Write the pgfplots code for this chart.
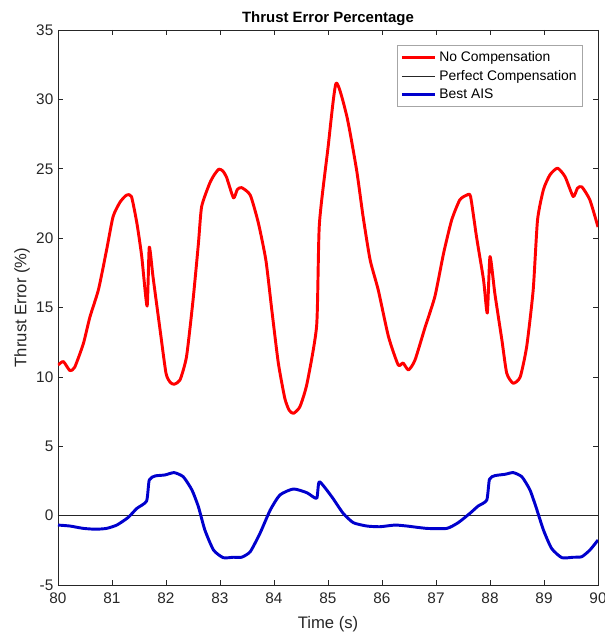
\documentclass[border=0pt]{standalone}
\usepackage{pgfplots}
\pgfplotsset{compat=1.18}
\usepackage{fontspec}
\setmainfont{Liberation Sans}
\definecolor{axgray}{RGB}{38,38,38}
\definecolor{myblue}{RGB}{0,0,205}
\begin{document}
\begin{tikzpicture}
\useasboundingbox (-43.5pt,-35.25pt) rectangle (410.25pt,438.75pt);
\begin{axis}[
  at={(0,0)}, anchor=south west,
  scale only axis, width=405pt, height=416.25pt,
  xmin=80, xmax=90, ymin=-5, ymax=35,
  xtick={80,81,...,90}, ytick={-5,0,...,35},
  tick align=inside, tick pos=both,
  major tick length=4pt,
  axis line style={axgray, line width=0.5pt},
  every tick/.style={axgray, line width=0.5pt},
  tick label style={font=\fontsize{11.5}{13}\selectfont, text=axgray},
  xticklabel style={yshift=-2pt},
  /pgf/number format/assume math mode=true,
  xlabel={Time (s)}, ylabel={Thrust Error (\%)},
  label style={font=\fontsize{12.5}{14}\selectfont, text=axgray},
  xlabel style={yshift=-3pt},
  ylabel style={yshift=-2pt},
  title={\textbf{Thrust Error Percentage}},
  title style={font=\fontsize{11.2}{13}\selectfont, yshift=-6pt},
  legend style={at={(0.972,0.973)}, anchor=north east, draw=gray!70, line width=0.4pt,
    font=\fontsize{10.4}{12}\selectfont, row sep=1pt, inner sep=2.5pt},
  legend cell align=left,
  legend image code/.code={\draw[#1] (0pt,0pt) -- (25pt,0pt);},
]
\addplot[red, line width=2.2pt, line join=round, smooth, tension=0.35] coordinates {
(80.0,10.85) (80.1,11.1) (80.22,10.45) (80.31,10.7) (80.47,12.4) (80.59,14.3)
(80.75,16.3) (80.9,19.15) (81.02,21.55) (81.15,22.6) (81.27,23.1) (81.36,23.0)
(81.46,21.1) (81.55,18.7) (81.65,15.1) (81.69,19.35) (81.76,17.2) (81.89,13.4)
(82.0,10.26) (82.08,9.6) (82.15,9.47) (82.26,9.78) (82.38,11.46) (82.5,15.5)
(82.6,19.6) (82.66,22.27) (82.81,23.96) (82.9,24.6) (82.98,24.97) (83.05,24.85) (83.12,24.4)
(83.25,22.9) (83.32,23.5) (83.4,23.64) (83.56,23.1) (83.71,21.1) (83.85,18.4)
(83.96,14.8) (84.08,11.0) (84.2,8.46) (84.28,7.6) (84.36,7.37) (84.48,7.85)
(84.61,9.5) (84.79,13.7) (84.84,21.0) (85.0,26.5) (85.15,31.17) (85.35,28.76)
(85.53,24.9) (85.65,21.55) (85.78,18.43) (85.93,16.27) (86.12,12.9) (86.3,10.86)
(86.39,11.0) (86.49,10.5) (86.61,11.2) (86.8,13.6) (86.98,15.8) (87.14,18.9)
(87.29,21.3) (87.44,22.75) (87.57,23.1) (87.64,23.0) (87.75,20.1) (87.88,17.0)
(87.95,14.6) (88.0,18.67) (88.09,16.0) (88.22,12.66) (88.31,10.26) (88.43,9.54)
(88.56,10.0) (88.68,12.2) (88.8,16.27) (88.88,21.3) (88.99,23.5) (89.11,24.56)
(89.25,25.04) (89.39,24.43) (89.54,23.0) (89.62,23.6) (89.7,23.7) (89.85,22.75) (90.0,20.8)
};
\addlegendentry{No Compensation}
\addplot[axgray, line width=0.5pt] coordinates {(80,0) (90,0)};
\addlegendentry{Perfect Compensation}
\addplot[myblue, line width=2.2pt, line join=round, smooth, tension=0.35] coordinates {
(80.0,-0.68) (80.22,-0.75) (80.47,-0.92) (80.7,-0.98) (80.9,-0.92) (81.09,-0.68)
(81.3,-0.13) (81.46,0.52) (81.64,1.05) (81.69,2.57) (81.8,2.86) (81.98,2.93)
(82.15,3.1) (82.32,2.8) (82.48,1.85) (82.6,0.64) (82.72,-1.04) (82.88,-2.48)
(83.06,-3.03) (83.25,-3.0) (83.4,-3.0) (83.56,-2.6) (83.74,-1.28) (83.93,0.4)
(84.11,1.49) (84.36,1.92) (84.61,1.65) (84.79,1.25) (84.84,2.44) (85.07,1.36)
(85.28,0.17) (85.47,-0.51) (85.72,-0.75) (85.96,-0.8) (86.24,-0.68) (86.46,-0.75)
(86.83,-0.92) (87.2,-0.92) (87.41,-0.51) (87.63,0.17) (87.78,0.69) (87.94,1.12)
(87.99,2.62) (88.09,2.88) (88.28,2.98) (88.43,3.1) (88.59,2.8) (88.74,1.85)
(88.86,0.52) (88.99,-1.04) (89.14,-2.36) (89.33,-3.03) (89.54,-3.0) (89.7,-2.96)
(89.85,-2.48) (90.0,-1.76)
};
\addlegendentry{Best AIS}
\end{axis}
\end{tikzpicture}
\end{document}
